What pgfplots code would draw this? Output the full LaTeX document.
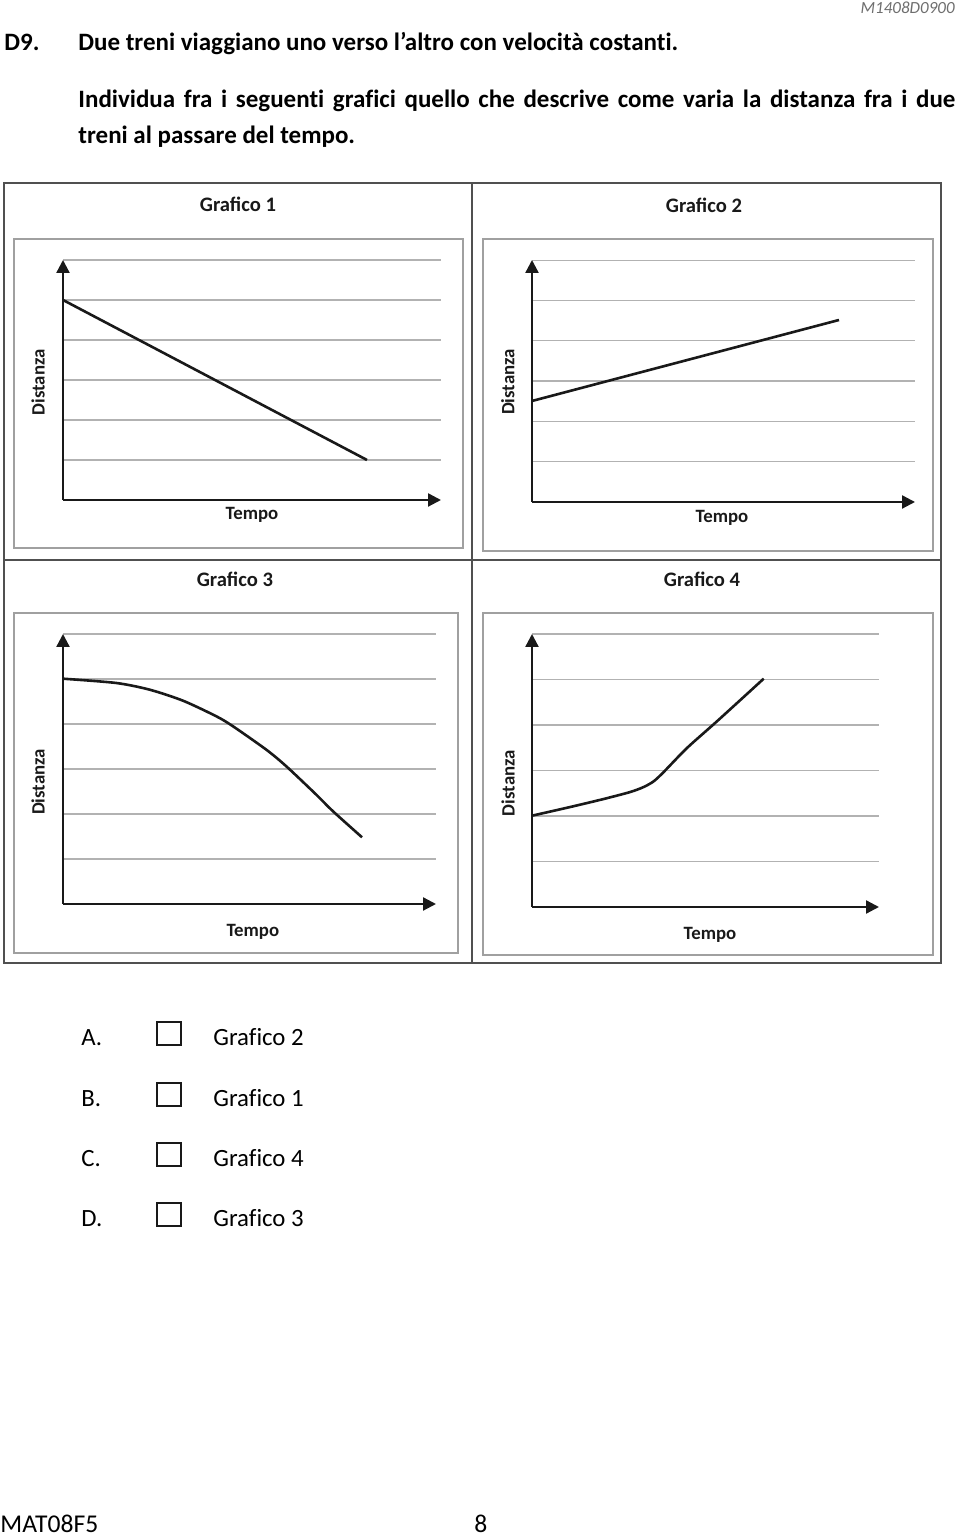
\documentclass[border=0pt]{standalone}
\usepackage{pgfplots}
\pgfplotsset{compat=1.18}
\usepackage{fontspec}
\setmainfont{Carlito}[Ligatures=NoCommon]
\newfontfamily\ligfont{Carlito}
\usetikzlibrary{arrows.meta}
\definecolor{gridgray}{RGB}{178,178,178}
\definecolor{framegray}{RGB}{160,160,160}
\definecolor{boxgray}{RGB}{80,80,80}
\definecolor{ink}{RGB}{25,25,25}
\definecolor{hdrgray}{RGB}{110,110,110}

\pgfplotsset{
  panel/.style={
    x=0.5pt, y=0.5pt,
    anchor=south west,
    xmin=0, ymin=0,
    axis lines*=left,
    axis line style={line width=1.15pt, ink, -{Triangle[length=6.5pt,width=6.5pt]}},
    xtick=\empty,
    ymajorgrids,
    grid style={gridgray, line width=0.6pt},
    yticklabels={},
    major tick length=0pt,
    clip=false,
    every axis title shift=0pt,
    title style={font=\ligfont\fontsize{10.3}{12}\selectfont\bfseries, anchor=center, text=ink},
    label style={font=\fontsize{9.4}{11}\selectfont\bfseries, anchor=center, text=ink},
    xlabel=Tempo, ylabel=Distanza,
  },
  curve/.style={ink, line width=1.3pt, mark=none},
}

\begin{document}
\begin{tikzpicture}[x=0.5pt,y=0.5pt]
\useasboundingbox (0,0) rectangle (960,1537);

% header and question
\node[anchor=east, inner sep=0pt, text=hdrgray, font=\fontsize{8.5}{10}\selectfont\itshape] at (955,1529) {M1408D0900};
\node[anchor=base west, inner sep=0pt, font=\fontsize{12.5}{15}\selectfont\bfseries] at (4,1486) {D9.};
\node[anchor=base west, inner sep=0pt, font=\fontsize{12.5}{15}\selectfont\bfseries] at (78,1486) {Due treni viaggiano uno verso l’altro con velocità costanti.};
\node[anchor=base west, inner sep=0pt, font=\fontsize{12.5}{15}\selectfont\bfseries] at (78,1429) {\makebox[438.5pt][s]{Individua fra i seguenti grafici quello che descrive come varia la distanza fra i due}};
\node[anchor=base west, inner sep=0pt, font=\fontsize{12.5}{15}\selectfont\bfseries] at (78,1393) {treni al passare del tempo.};

% frames
\draw[boxgray, line width=0.6pt] (4,574) rectangle (941,1354);
\draw[boxgray, line width=0.6pt] (472,574) -- (472,1354);
\draw[boxgray, line width=0.6pt] (4,977) -- (941,977);
\draw[framegray, line width=0.9pt] (14,989) rectangle (463,1298);
\draw[framegray, line width=0.9pt] (483,986) rectangle (933,1298);
\draw[framegray, line width=0.9pt] (14,584) rectangle (458,924);
\draw[framegray, line width=0.9pt] (483,582) rectangle (933,924);

% Grafico 1
\begin{axis}[panel, at={(31.5pt,518.5pt)}, xmax=378, ymax=240,
  ytick={40,80,120,160,200,240},
  title={Grafico 1}, title style={at={(axis description cs:0.463,1.233)}},
  xlabel style={at={(axis description cs:0.5,-0.0625)}},
  ylabel style={at={(axis description cs:-0.066,0.49)}}]
\addplot[curve] coordinates {(0,200) (304,40)};
\end{axis}

% Grafico 2
\begin{axis}[panel, at={(266pt,517.5pt)}, xmax=383, ymax=242,
  ytick={40.3,80.6,121,161.2,201.5,241.8},
  title={Grafico 2}, title style={at={(axis description cs:0.449,1.227)}},
  xlabel style={at={(axis description cs:0.496,-0.066)}},
  ylabel style={at={(axis description cs:-0.063,0.496)}}]
\addplot[curve] coordinates {(0,101) (307,182)};
\end{axis}

% Grafico 3
\begin{axis}[panel, at={(31.5pt,316.5pt)}, xmax=373, ymax=270,
  ytick={45,90,135,180,225,270},
  title={Grafico 3}, title style={at={(axis description cs:0.461,1.204)}},
  xlabel style={at={(axis description cs:0.509,-0.104)}},
  ylabel style={at={(axis description cs:-0.067,0.452)}}]
\addplot[curve, smooth, tension=0.45] coordinates {(0,225.3) (53.3,221) (86.7,214.3) (120,203.3) (153.3,187.7) (170,177.7) (203.3,154.3) (223.3,137.7) (253.3,109.3) (270,92.7) (299,66.7)};
\end{axis}

% Grafico 4
\begin{axis}[panel, at={(266pt,315pt)}, xmax=347, ymax=273,
  ytick={45.5,91,136.5,182,227.5,273},
  title={Grafico 4}, title style={at={(axis description cs:0.49,1.201)}},
  xlabel style={at={(axis description cs:0.513,-0.103)}},
  ylabel style={at={(axis description cs:-0.069,0.454)}}]
\addplot[curve, smooth, tension=0.45] coordinates {(0,91.3) (38.3,100) (71.7,108) (98.3,115) (111.7,120) (121.7,125.7) (131.7,135) (155,159) (185,185.7) (231.7,228.3)};
\end{axis}

% answer options
\foreach \yb/\yt/\L/\G in {491/492/A/2, 430/431/B/1, 370/371/C/4, 310/311/D/3}{
  \node[anchor=base west, inner sep=0pt, font=\fontsize{12.4}{15}\selectfont] at (81,\yb) {\L.};
  \draw[ink, line width=0.75pt] (157,\yt) rectangle (181,\yt+23);
  \node[anchor=base west, inner sep=0pt, font=\fontsize{12.4}{15}\selectfont] at (213,\yb) {Grafico \G};
}

% footer
\node[anchor=base west, inner sep=0pt, font=\fontsize{12.8}{15}\selectfont] at (0,4) {MAT08F5};
\node[anchor=base west, inner sep=0pt, font=\fontsize{12.8}{15}\selectfont] at (474,4) {8};
\end{tikzpicture}
\end{document}
